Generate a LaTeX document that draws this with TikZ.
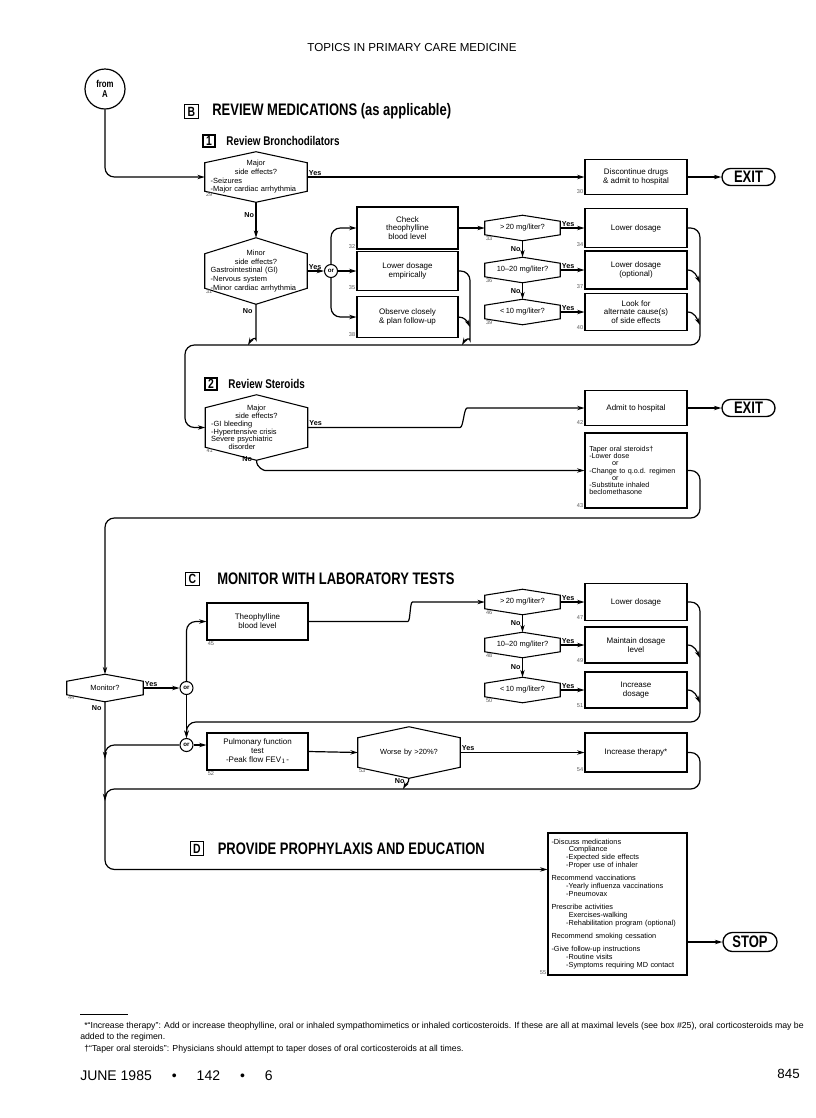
\documentclass[tikz,border=0pt]{standalone}
\usepackage{fontspec}
\setmainfont{Liberation Sans}
\newfontfamily\condfont[FakeStretch=0.78]{Liberation Sans}
\usetikzlibrary{arrows.meta, positioning, calc}

\newcommand{\hexmid}[1]{\leavevmode\null\hfill#1\hfill\null}

\begin{document}
\begin{tikzpicture}[
    x=0.75pt, y=-0.75pt,
    >={Stealth[length=5.5pt,width=3.3pt]},
    wire/.style={line width=0.9pt, rounded corners=7pt},
    arr/.style={wire, ->},
    box/.style={rectangle, draw, line width=0.8pt, minimum width=76.5pt, minimum height=#1, inner sep=1.5pt, align=center, font=\fontsize{6}{6.6}\selectfont},
    box/.default=28pt,
    hexq/.style={rectangle, minimum width=76.5pt, minimum height=#1, inner sep=0pt, text width=68pt, align=left, font=\fontsize{5.6}{6.5}\selectfont},
    hexs/.style={rectangle, minimum width=56.25pt, minimum height=18.75pt, inner sep=0pt, align=center, font=\fontsize{5.6}{6.5}\selectfont},
    orc/.style={circle, draw, line width=0.8pt, minimum size=9.75pt, inner sep=0pt, font=\bfseries\fontsize{4.6}{5}\selectfont},
    endcap/.style={rectangle, draw, line width=1pt, rounded corners=6.3pt, minimum width=39.75pt, minimum height=12.75pt, inner sep=0pt, font=\condfont\bfseries\fontsize{12.5}{12.5}\selectfont},
    yn/.style={font=\bfseries\fontsize{5.4}{6}\selectfont, inner sep=1pt},
    num/.style={font=\fontsize{4.2}{4.5}\selectfont, text=black!65, inner sep=0.8pt},
    secbox/.style={rectangle, draw, line width=0.8pt, minimum size=#1, inner sep=0pt, font=\condfont\bfseries\fontsize{10}{10}\selectfont},
    sectitle/.style={font=\condfont\bfseries\fontsize{12.5}{13}\selectfont, inner sep=0pt},
    subtitle/.style={font=\condfont\bfseries\fontsize{9.5}{11}\selectfont, inner sep=0pt}
]
\useasboundingbox (0,0) rectangle (816,1118);
\fill[white] (0,0) rectangle (816,1118);

\node[font=\fontsize{8.7}{9}\selectfont] (head) at (412,48) {TOPICS IN PRIMARY CARE MEDICINE};

% Section B: review medications
\node[circle, draw, line width=0.9pt, minimum size=30pt, inner sep=0pt, align=center, font=\condfont\bfseries\fontsize{7.5}{8}\selectfont] (fromA) at (105,89) {from\\A};
\node[secbox=10pt] (secB) at (191.5,111.5) {B};
\node[sectitle, right=10pt of secB] (titleB) {REVIEW MEDICATIONS (as applicable)};
\node[secbox=9pt] (sec1) at (209,141) {1};
\node[subtitle, right=8pt of sec1] (title1) {Review Bronchodilators};

\node[hexq=37.5pt] (h29) at (256,177) {\hexmid{Major}\\ \hexmid{side effects?}\\ -Seizures\\ -Major cardiac arrhythmia};
\node[box=26.25pt] (b30) at (636,177) {Discontinue drugs\\ \& admit to hospital};
\node[endcap] (exit1) at (748.5,177) {EXIT};

\node[hexq=49.5pt] (h31) at (256,271) {\hexmid{Minor}\\ \hexmid{side effects?}\\ Gastrointestinal (GI)\\ -Nervous system\\ -Minor cardiac arrhythmia};
\node[orc] (or1) at (331,271) {or};
\node[box=31.5pt, minimum width=75.75pt] (b32) at (407.5,228) {Check\\ theophylline\\ blood level};
\node[box=29.25pt, minimum width=75.75pt] (b35) at (407.5,271) {Lower dosage\\ empirically};
\node[box=30.75pt, minimum width=75.75pt] (b38) at (407.5,317) {Observe closely\\ \& plan follow-up};

\node[hexs] (h33) at (522.5,228) {>\,20 mg/liter?};
\node[hexs] (h36) at (522.5,270) {10--20 mg/liter?};
\node[hexs] (h39) at (522.5,312) {<\,10 mg/liter?};
\node[box=29.25pt] (b34) at (636,228) {Lower dosage};
\node[box=28.5pt] (b37) at (636,270) {Lower dosage\\ (optional)};
\node[box=27.75pt] (b40) at (636,312) {Look for\\ alternate cause(s)\\ of side effects};

\coordinate (railA) at (470,345);
\coordinate (railB) at (700,345);
\coordinate (loopB) at (185,345);

\node[secbox=9pt] (sec2) at (211,384) {2};
\node[subtitle, right=8pt of sec2] (title2) {Review Steroids};
\node[hexq=48.75pt, font=\fontsize{5.6}{5.9}\selectfont] (h41) at (256.5,427.5) {\hexmid{Major}\\ \hexmid{side effects?}\\ -GI bleeding\\ -Hypertensive crisis\\ Severe psychiatric\\ \hspace*{13pt}disorder};
\node[box=26.25pt] (b42) at (636,408) {Admit to hospital};
\node[endcap] (exit2) at (748.5,408) {EXIT};
\node[box=56.25pt, align=left, text width=70pt, font=\fontsize{5.4}{5.4}\selectfont] (b43) at (636,470.5) {Taper oral steroids\textdagger\\ -Lower dose\\ \hspace*{17pt}or\\ -Change to q.o.d. regimen\\ \hspace*{17pt}or\\ -Substitute inhaled\\ beclomethasone};
\coordinate (railC) at (700,518);

% Section C: monitor
\node[secbox=10pt] (secC) at (192.5,579) {C};
\node[sectitle, right=13pt of secC] (titleC) {MONITOR WITH LABORATORY TESTS};
\node[hexs, minimum width=57pt, minimum height=20.25pt] (h44) at (105,688) {Monitor?};
\node[orc] (or2) at (186.5,688) {or};
\node[orc] (or3) at (186.5,745) {or};
\node[box=27.75pt, minimum width=75.75pt] (b45) at (257.5,621.5) {Theophylline\\ blood level};
\node[hexs] (h46) at (522.5,602) {>\,20 mg/liter?};
\node[hexs] (h48) at (522.5,645) {10--20 mg/liter?};
\node[hexs] (h50) at (522.5,690) {<\,10 mg/liter?};
\node[box=27.75pt] (b47) at (636,602) {Lower dosage};
\node[box=27pt] (b49) at (636,645) {Maintain dosage\\ level};
\node[box=27pt] (b51) at (636,690) {Increase\\ dosage};
\coordinate (railD) at (700,722);
\node[box=27.75pt, minimum width=75.75pt] (b52) at (257.5,751.5) {Pulmonary function\\ test\\ -Peak flow FEV$_1$-};
\node[hexq=38.25pt, align=center] (h53) at (409,752.5) {Worse by >20\%?};
\node[box=29.25pt] (b54) at (636,752.5) {Increase therapy*};
\coordinate (railE) at (700,789);

% Section D: prophylaxis
\node[secbox=10pt] (secD) at (197,848.5) {D};
\node[sectitle, right=10pt of secD] (titleD) {PROVIDE PROPHYLAXIS AND EDUCATION};
\node[box=106.5pt, minimum width=104.25pt, text width=99pt, align=left, font=\fontsize{5.5}{5.9}\selectfont] (b55) at (617.5,904) {-Discuss medications\\ \hspace*{13pt}Compliance\\ \hspace*{11pt}-Expected side effects\\ \hspace*{11pt}-Proper use of inhaler\\[4pt] Recommend vaccinations\\ \hspace*{11pt}-Yearly influenza vaccinations\\ \hspace*{11pt}-Pneumovax\\[4pt] Prescribe activities\\ \hspace*{13pt}Exercises-walking\\ \hspace*{11pt}-Rehabilitation program (optional)\\[4pt] Recommend smoking cessation\\[4pt] -Give follow-up instructions\\ \hspace*{11pt}-Routine visits\\ \hspace*{11pt}-Symptoms requiring MD contact};
\node[endcap, minimum width=40.5pt, minimum height=14.25pt, rounded corners=7pt] (stop) at (750,942) {STOP};

% hexagon outlines and box numbers
\foreach \h/\n/\d in {h29/29/8.25pt, h31/31/12pt, h33/33/4.5pt, h36/36/4.5pt, h39/39/4.5pt, h41/41/9.75pt, h44/44/5.25pt, h46/46/4.5pt, h48/48/4.5pt, h50/50/4.5pt, h53/53/8.25pt} {
  \draw[line width=0.8pt] ([yshift=-\d]\h.north west) -- (\h.north) -- ([yshift=-\d]\h.north east) -- ([yshift=\d]\h.south east) -- (\h.south) -- ([yshift=\d]\h.south west) -- cycle;
  \node[num, anchor=north west] (n\n) at ([yshift=\d]\h.south west) {\n};
}
\foreach \b/\n in {b30/30, b32/32, b34/34, b35/35, b37/37, b38/38, b40/40, b42/42, b43/43, b47/47, b49/49, b51/51, b54/54, b55/55}
  \node[num, anchor=south east] (n\n) at (\b.south west) {\n};
\foreach \b/\n in {b45/45, b52/52}
  \node[num, anchor=north west] (n\n) at (\b.south west) {\n};

% ---- ARROWS ----
% bronchodilators
\draw[arr] (fromA.south) |- (h29.west);
\draw[arr] (h29.east) -- (b30.west);
\node[yn, anchor=south west] (y29) at (h29.east) {Yes};
\draw[arr] (b30.east) -- (exit1.west);
\draw[arr] (h29.south) -- node[yn, left, pos=0.35] (no29) {No} (h31.north);
\draw[arr] (h31.east) -- (or1.west);
\node[yn, anchor=south west] (y31) at (h31.east) {Yes};
\draw[arr] (or1.north) |- (b32.west);
\draw[arr] (or1.east) -- (b35.west);
\draw[arr] (or1.south) |- (b38.west);
\draw[arr] (b32.east) -- (h33.west);
\draw[arr] (h33.east) -- (b34.west);
\node[yn, anchor=south west] (y33) at (h33.east) {Yes};
\draw[arr] (h33.south) -- node[yn, left] (no33) {No} (h36.north);
\draw[arr] (h36.east) -- (b37.west);
\node[yn, anchor=south west] (y36) at (h36.east) {Yes};
\draw[arr] (h36.south) -- node[yn, left] (no36) {No} (h39.north);
\draw[arr] (h39.east) -- (b40.west);
\node[yn, anchor=south west] (y39) at (h39.east) {Yes};

% back to the left, on to steroids
\draw[arr] (b34.east) -| (railB) -- (loopB) |- (h41.west);
\draw[arr] (b37.east) to[out=0, in=115] ($(b37.east -| railB)+(0,13)$);
\draw[arr] (b40.east) to[out=0, in=115] ($(b40.east -| railB)+(0,13)$);
\draw[arr] (b35.east) -| ($(railA)+(0,-14)$) to[out=-90, in=60] ($(railA)+(-8,0)$);
\draw[arr] (b38.east) to[out=0, in=115] ($(b38.east -| railA)+(0,10)$);
\draw[arr] (h31.south) -- ++(0,26) to[out=-90, in=60] ($(h31.south |- railA)+(-8,0)$);
\node[yn, anchor=east] (no31) at ($(h31.south)+(-2,7)$) {No};

% steroids
\draw[arr] (h41.east) -- ++(143,0) to[out=0, in=180] ($(b42.west)+(-108,0)$) -- (b42.west);
\node[yn, anchor=south west] (y41) at (h41.east) {Yes};
\draw[arr] (b42.east) -- (exit2.west);
\draw[arr] (h41.south) .. controls +(0,8) and +(-10,0) .. ($(b43.west -| h41.south)+(18,0)$) -- (b43.west);
\node[yn, anchor=east] (no41) at ($(h41.south)+(-3,-1)$) {No};
\draw[arr] (b43.east) -| (railC) -| (h44.north);

% laboratory tests
\draw[arr] (h44.east) -- (or2.west);
\node[yn, anchor=south west] (y44) at (h44.east) {Yes};
\draw[arr] (or2.north) |- (b45.west);
\draw[arr] (or2.south) -- (or3.north);
\draw[arr] (b45.east) -- ++(90,0) to[out=0, in=180] ($(h46.west)+(-63,0)$) -- (h46.west);
\draw[arr] (h46.east) -- (b47.west);
\node[yn, anchor=south west] (y46) at (h46.east) {Yes};
\draw[arr] (h46.south) -- node[yn, left] (no46) {No} (h48.north);
\draw[arr] (h48.east) -- (b49.west);
\node[yn, anchor=south west] (y48) at (h48.east) {Yes};
\draw[arr] (h48.south) -- node[yn, left] (no48) {No} (h50.north);
\draw[arr] (h50.east) -- (b51.west);
\node[yn, anchor=south west] (y50) at (h50.east) {Yes};
\draw[arr] (b47.east) -| (railD) -| (or3.north);
\draw[arr] (b49.east) to[out=0, in=115] ($(b49.east -| railD)+(0,13)$);
\draw[arr] (b51.east) to[out=0, in=115] ($(b51.east -| railD)+(0,13)$);
\draw[arr] (or3.east) -- (or3.east -| b52.west);
\draw[arr] (or3.west) -| ($(h44.south |- or3.west)+(0,14)$);
\draw[arr] (b52.east) -- (h53.west);
\draw[arr] (h53.east) -- (b54.west);
\node[yn, anchor=south west] (y53) at (h53.east) {Yes};
\draw[arr] (b54.east) -| (railE) -| ($(h44.south |- railE)+(0,12)$);
\draw[arr] (h53.south) to[out=-90, in=60] ($(h53.south |- railE)+(-6,0)$);
\node[yn, anchor=east] (no53) at ($(h53.south)+(-3,3)$) {No};

% prophylaxis
\draw[arr] (h44.south) |- ($(b55.north west)+(0,37)$);
\node[yn, anchor=north east] (no44) at ($(h44.south)+(-2,2)$) {No};
\draw[arr] (stop.west -| b55.east) -- (stop.west);

% footnotes and footer
\draw[line width=0.5pt] (80,1014) -- (128,1014);
\node[anchor=west, inner sep=0pt, font=\fontsize{6.55}{7}\selectfont] (fn1) at (84,1026) {*“Increase therapy”: Add or increase theophylline, oral or inhaled sympathomimetics or inhaled corticosteroids. If these are all at maximal levels (see box \#25), oral corticosteroids may be};
\node[anchor=west, inner sep=0pt, font=\fontsize{6.55}{7}\selectfont] (fn2) at (80,1037) {added to the regimen.};
\node[anchor=west, inner sep=0pt, font=\fontsize{6.55}{7}\selectfont] (fn3) at (84,1049) {\textdagger“Taper oral steroids”: Physicians should attempt to taper doses of oral corticosteroids at all times.};
\node[anchor=west, inner sep=0pt, font=\fontsize{10.5}{11}\selectfont] (foot) at (80,1076) {JUNE 1985\hspace{15pt}•\hspace{15pt}142\hspace{15pt}•\hspace{15pt}6};
\node[anchor=east, inner sep=0pt, font=\fontsize{10}{11}\selectfont] (page) at (800,1074) {845};

\end{tikzpicture}
\end{document}
